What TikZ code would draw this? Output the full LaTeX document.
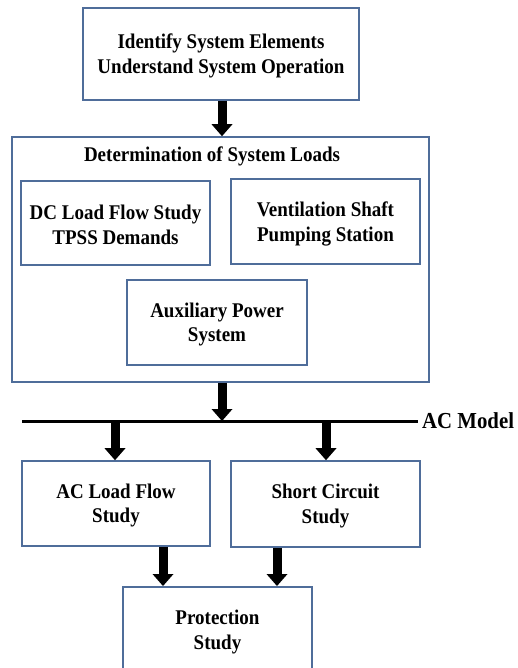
\documentclass[tikz,border=0pt]{standalone}
\usepackage{fontspec}
\setmainfont{Liberation Serif}
\usetikzlibrary{arrows.meta}
\definecolor{boxblue}{RGB}{79,109,154}
\tikzset{
  box/.style={draw=boxblue, line width=1.6pt, fill=white, inner sep=0pt},
  txt/.style={align=center, inner sep=0pt, yshift=-2pt, yscale=1.1, transform shape,
    font=\fontsize{19}{22.7}\selectfont\bfseries},
  barrow/.style={line width=9pt, -{Triangle[width=21pt,length=12pt,line width=0pt]}},
  bus/.style={line width=3pt}
}
\begin{document}
\begin{tikzpicture}[x=1pt,y=1pt]
\useasboundingbox (0,0) rectangle (518,-668);
\clip (0,0) rectangle (518,-668);
\node[box, minimum width=276pt, minimum height=92pt] (top) at (221,-54) {};
\node[txt] (topt) at (top.center) {Identify System Elements\\Understand System Operation};
\node[box, minimum width=417pt, minimum height=245pt] (loads) at (220.5,-259.5) {};
\node[txt] (loadst) at (212,-154) {Determination of System Loads};
\node[box, minimum width=189pt, minimum height=84pt] (dc) at (115.5,-223) {};
\node[txt] (dct) at (dc.center) {DC Load Flow Study\\TPSS Demands};
\node[box, minimum width=189pt, minimum height=85pt] (vent) at (325.5,-221.5) {};
\node[txt] (ventt) at (vent.center) {Ventilation Shaft\\Pumping Station};
\node[box, minimum width=180pt, minimum height=85pt] (aux) at (217,-322.5) {};
\node[txt] (auxt) at (aux.center) {Auxiliary Power\\System};
\coordinate (busw) at (22,-421);
\coordinate (buse) at (418,-421);
\draw[bus] (busw) -- (buse);
\node[txt, anchor=west, font=\fontsize{20.8}{24}\selectfont\bfseries] (acm) at (422,-419) {AC Model};
\node[box, minimum width=188pt, minimum height=85pt] (aclf) at (116,-503.5) {};
\node[txt] (aclft) at (aclf.center) {AC Load Flow\\Study};
\node[box, minimum width=189pt, minimum height=86pt] (sc) at (325.5,-504) {};
\node[txt] (sct) at (sc.center) {Short Circuit\\Study};
\node[box, minimum width=189pt, minimum height=130pt, anchor=north] (prot) at (217.5,-586) {};
\node[txt] (prott) at (217.5,-630) {Protection\\Study};
\coordinate (b0) at (222,-421);
\coordinate (b1) at (115,-421);
\coordinate (b2) at (326,-421);
\draw[barrow] (top.south -| b0) -- (loads.north -| b0);
\draw[barrow] (loads.south -| b0) -- (b0);
\draw[barrow] (b1) -- (b1 |- aclf.north);
\draw[barrow] (b2) -- (b2 |- sc.north);
\coordinate (p1) at (163,-547);
\coordinate (p2) at (277,-547);
\draw[barrow] (aclf.south -| p1) -- (prot.north -| p1);
\draw[barrow] (sc.south -| p2) -- (prot.north -| p2);
\end{tikzpicture}
\end{document}
